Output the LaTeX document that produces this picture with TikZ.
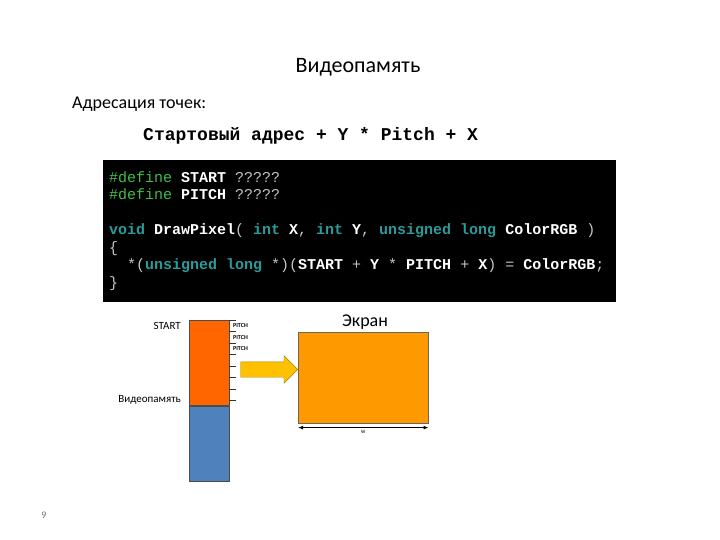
\documentclass[tikz,border=0pt]{standalone}
\usepackage{fontspec}
\setmainfont{Carlito}
\setmonofont{Liberation Mono}
\usetikzlibrary{arrows.meta,positioning,shapes.arrows}
\definecolor{cdgreen}{HTML}{3FBF4A}
\definecolor{cdteal}{HTML}{2A9A9A}
\definecolor{cdgray}{HTML}{C4C4C4}
\definecolor{memorange}{HTML}{FF6600}
\definecolor{memblue}{HTML}{4F81BD}
\definecolor{scrorange}{HTML}{FF9900}
\definecolor{arryellow}{HTML}{FFC000}
\newcommand{\kwd}[1]{{\color{cdteal}\bfseries #1}}
\newcommand{\ppd}[1]{{\color{cdgreen}#1}}
\newcommand{\idn}[1]{{\color{white}\bfseries #1}}
\tikzset{
  codeline/.style = {anchor=base west, inner sep=0pt, font=\fontsize{15}{17}\ttfamily\color{cdgray}},
  smalllbl/.style = {font=\fontsize{11}{12}\selectfont, inner sep=1pt},
  pitchlbl/.style = {font=\fontsize{6}{7}\selectfont\bfseries, inner sep=0pt, anchor=west},
  membox/.style   = {rectangle, draw=black!70, line width=0.6pt, minimum width=40pt, inner sep=0pt},
  tickline/.style = {black!80, line width=0.6pt},
}
\begin{document}
\begin{tikzpicture}[x=1pt,y=-1pt]
\useasboundingbox (0,0) rectangle (720,540);
% headings
\node[font=\fontsize{22}{24}\selectfont] (title) at (358,67) {Видеопамять};
\node[font=\fontsize{18}{20}\selectfont, anchor=west, inner sep=0pt] (sub) at (72,104) {Адресация точек:};
\node[font=\fontsize{18}{20}\ttfamily\bfseries, anchor=base west, inner sep=0pt] (formula) at (143,141)
  {Стартовый адрес + Y * Pitch + X};
% code listing
\node[fill=black, minimum width=513pt, minimum height=142pt, anchor=north west, inner sep=0pt] (codebox) at (103,160) {};
\node[codeline] (c1) at (109,183) {\ppd{\#define} \idn{START} ?????};
\node[codeline] (c2) at (109,200) {\ppd{\#define} \idn{PITCH} ?????};
\node[codeline] (c3) at (109,235) {\kwd{void} \idn{DrawPixel}( \kwd{int} \idn{X}, \kwd{int} \idn{Y}, \kwd{unsigned long} \idn{ColorRGB} )};
\node[codeline] (c4) at (109,252) {\{};
\node[codeline] (c5) at (109,269) {\phantom{xx}*(\kwd{unsigned long} *)(\idn{START} + \idn{Y} * \idn{PITCH} + \idn{X}) = \idn{ColorRGB};};
\node[codeline] (c6) at (109,287) {\}};
% memory column
\node[membox, fill=memorange, minimum height=85pt, anchor=north west] (memtop) at (189,320) {};
\node[membox, fill=memblue, minimum height=75pt, anchor=north] (membot) at (memtop.south) {};
\foreach \k in {0,...,7}
  \draw[tickline] (229,{320+11.5*\k}) -- ++(7,0);
\foreach \k/\yy in {1/326,2/338,3/349}
  \node[pitchlbl] (pitch\k) at (233,\yy) {PITCH};
\node[smalllbl, anchor=east] (start) at (182,326) {START};
\node[smalllbl, anchor=east] (vidlbl) at (182,400) {Видеопамять};
% screen
\node[rectangle, draw=black!60, line width=0.6pt, fill=scrorange, minimum width=130pt, minimum height=91pt,
      anchor=north west, inner sep=0pt] (screen) at (298,332) {};
\node[font=\fontsize{18}{20}\selectfont, anchor=south, inner sep=1pt] (scrlbl) at (365,331) {Экран};
\node[single arrow, draw=black!35!arryellow, fill=arryellow, minimum height=57pt, inner sep=7.5pt,
      single arrow head extend=6pt, anchor=tip] (arr) at (screen.west |- 0,369.5) {};
\coordinate (wl) at ([yshift=-4pt]screen.south west);
\coordinate (wr) at ([yshift=-4pt]screen.south east);
\draw[{Latex[length=5pt,width=4pt]}-{Latex[length=5pt,width=4pt]}, line width=1.3pt] (wl) -- (wr)
  node[midway, below=2pt, font=\fontsize{6}{7}\selectfont, inner sep=0pt] (wlbl) {w};
\node[font=\fontsize{10}{12}\selectfont, text=black!55] (pagenum) at (44,515) {9};
\end{tikzpicture}
\end{document}
